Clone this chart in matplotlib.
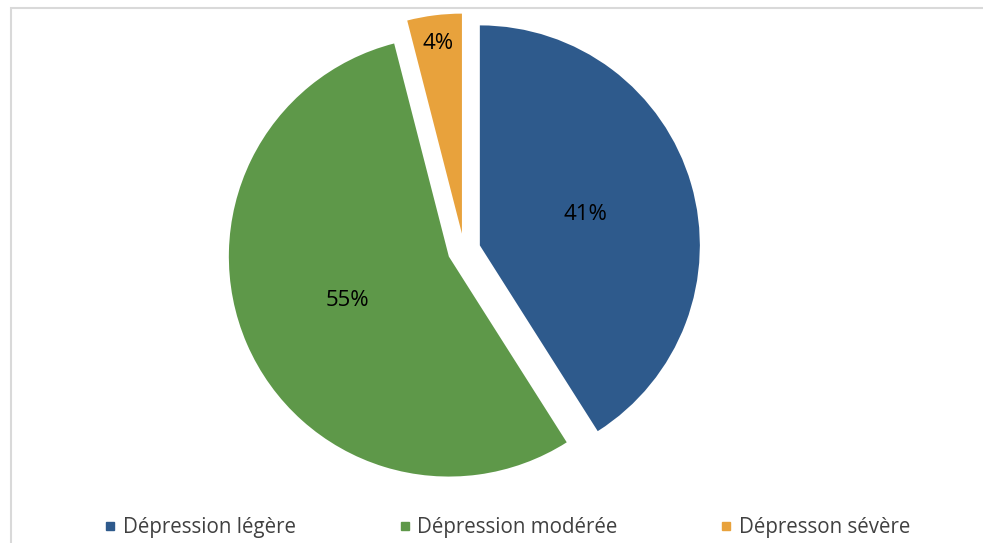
import numpy as np
import matplotlib.pyplot as plt
from matplotlib.lines import Line2D
from matplotlib.patches import Rectangle

plt.rcParams['font.family'] = ['Open Sans', 'DejaVu Sans']

labels = ['Dépression légère', 'Dépression modérée', 'Dépresson sévère']
values = [41, 55, 4]
colors = ['#2E5A8C', '#5E9849', '#E8A23C']

fig = plt.figure(figsize=(9.83, 5.43), dpi=100)
ax = fig.add_axes([0, 0, 1, 1])

# pie drawn in pixel-like units so the layout matches the picture
wedges, texts, autotexts = ax.pie(values, colors=colors, radius=220, center=(464, 293),
                                  explode=[16.5, 16.5, 16.5], startangle=90,
                                  counterclock=False, autopct='%1.0f%%', pctdistance=0.5,
                                  wedgeprops=dict(linewidth=0),
                                  textprops=dict(fontsize=16, color='black'))

# small slice label sits farther out, like Excel's best fit
w = wedges[2]
tm = np.deg2rad((w.theta1 + w.theta2) / 2)
autotexts[2].set_position((w.center[0] + 0.87 * w.r * np.cos(tm),
                           w.center[1] + 0.87 * w.r * np.sin(tm)))

ax.set_xlim(0, 983)
ax.set_ylim(0, 543)
ax.set_aspect('equal')
ax.axis('off')

handles = [Line2D([], [], marker='s', linestyle='', markersize=6, color=c) for c in colors]
fig.legend(handles, labels, loc='center', bbox_to_anchor=(0.516, 0.028), ncol=3,
           frameon=False, fontsize=14.8, labelcolor='#404040', handletextpad=0.3,
           columnspacing=5.0, handlelength=0.6)

# chart border (cropped at the right and bottom)
fig.patches.append(Rectangle((10.5 / 983, -0.1), 2, (543 - 8.5) / 543 + 0.1,
                             transform=fig.transFigure, fill=False,
                             edgecolor='#D9D9D9', linewidth=1.5))

fig.savefig('out.png', dpi=100)
